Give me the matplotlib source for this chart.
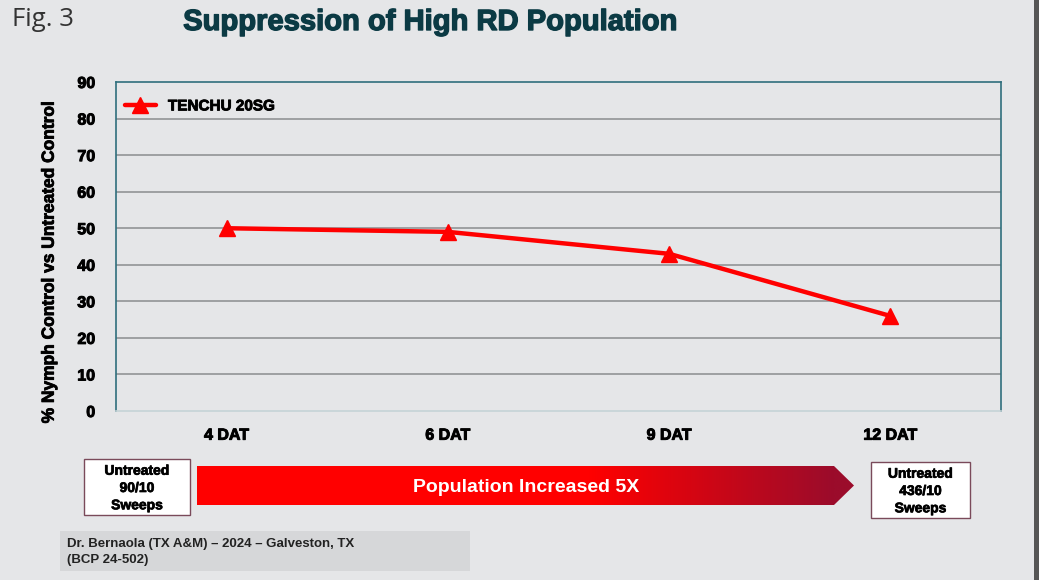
import numpy as np
import matplotlib
matplotlib.use('Agg')
import matplotlib.pyplot as plt
import matplotlib.patheffects as pe
from matplotlib.patches import Polygon, Rectangle

plt.rcParams['font.family'] = ['Liberation Sans', 'DejaVu Sans']

categories = ["4 DAT", "6 DAT", "9 DAT", "12 DAT"]
tenchu = [50, 49, 43, 26]
y_ticks = [0, 10, 20, 30, 40, 50, 60, 70, 80, 90]

W, H = 1039, 580
BG = "#e5e6e8"
TEAL = "#2f6f7d"


def heavy(color, w=0.7):
    # fake a heavier weight than plain bold
    return [pe.withStroke(linewidth=w, foreground=color)]


fig = plt.figure(figsize=(W / 100, H / 100), dpi=100, facecolor=BG)

# main chart area
ax = fig.add_axes([116 / W, 1 - 411 / H, 885 / W, 329 / H])
ax.set_facecolor(BG)
x = np.arange(len(categories))
ax.plot(x, tenchu, color="#ff0000", lw=3.2, marker="^", markersize=11,
        label="TENCHU 20SG", solid_capstyle="round")
ax.set_xlim(-0.5, len(categories) - 0.5)
ax.set_ylim(0, 90)
ax.set_yticks(y_ticks)
ax.set_yticklabels([str(v) for v in y_ticks], fontsize=11.5, fontweight="bold")
ax.set_xticks(x)
ax.set_xticklabels(categories, fontsize=11.5, fontweight="bold")
for lbl in ax.get_xticklabels() + ax.get_yticklabels():
    lbl.set_path_effects(heavy("black"))
ax.tick_params(length=0, pad=15)
ax.tick_params(axis="x", pad=12)
for v in y_ticks[1:-1]:
    ax.axhline(v, color="#8a8c8e", lw=1.1, zorder=0)
for side in ["left", "right", "top"]:
    ax.spines[side].set_color(TEAL)
    ax.spines[side].set_linewidth(1.2)
ax.spines["bottom"].set_color("#c5d3d6")
ax.spines["bottom"].set_linewidth(1.2)
ylab = ax.set_ylabel("% Nymph Control vs Untreated Control", fontsize=12.5,
                     fontweight="bold")
ylab.set_path_effects(heavy("black", 0.6))
ax.yaxis.set_label_coords(-0.067, 0.453)
leg = ax.legend(loc="upper left", frameon=False, prop={"weight": "bold", "size": 11},
                handlelength=2.0, borderaxespad=0.2, bbox_to_anchor=(0.0, 0.975))
for t in leg.get_texts():
    t.set_path_effects(heavy("black", 0.6))

# overlay for annotations in pixel coords
ov = fig.add_axes([0, 0, 1, 1], zorder=-1)
ov.set_xlim(0, W)
ov.set_ylim(H, 0)
ov.axis("off")

fig.text(12 / W, 1 - 19 / H, "Fig. 3", fontsize=18.5, color="#333333",
         va="center", ha="left", family=["Open Sans", "DejaVu Sans"])
title = fig.text(430 / W, 1 - 22 / H, "Suppression of High RD Population", fontsize=21,
                 fontweight="bold", color="#0b3a44", va="center", ha="center")
title.set_path_effects(heavy("#0b3a44", 1.0))

# gradient arrow
arrow_pts = [(197, 466), (834, 466), (854, 485.5), (834, 505), (197, 505)]
arrow = Polygon(arrow_pts, closed=True, facecolor="none", edgecolor="none")
ov.add_patch(arrow)
red = np.array([1.0, 0.0, 0.0])
dark = np.array([0x9b, 0x0c, 0x2b]) / 255
xs = np.linspace(197, 854, 500)
t = np.clip((xs - 590) / (834 - 590), 0, 1)
cols = red[None, :] * (1 - t[:, None]) + dark[None, :] * t[:, None]
img = ov.imshow(cols[None, :, :], extent=(197, 854, 505, 466), aspect="auto",
                interpolation="bilinear")
img.set_clip_path(arrow)
ov.text(526, 487, "Population Increased 5X", color="white", fontsize=14,
        fontweight="bold", ha="center", va="center")

# untreated boxes
for (x0, y0, w, h, txt) in [(84, 459, 106, 56, "Untreated\n90/10\nSweeps"),
                            (871, 462, 99, 56, "Untreated\n436/10\nSweeps")]:
    ov.add_patch(Rectangle((x0, y0), w, h, facecolor="white",
                           edgecolor="#7a4a5a", lw=1.0))
    bt = ov.text(x0 + w / 2, y0 + h / 2 + 1, txt, ha="center", va="center",
                 fontsize=10, fontweight="bold", linespacing=1.3)
    bt.set_path_effects(heavy("black", 0.5))

# credit box
ov.add_patch(Rectangle((60, 531), 410, 40, facecolor="#d6d7d9", edgecolor="none"))
ov.text(67, 552, "Dr. Bernaola (TX A&M) \u2013 2024 \u2013 Galveston, TX\n(BCP 24-502)",
        ha="left", va="center", fontsize=9.5, fontweight="bold", color="#222222",
        linespacing=1.45)

# right edge bar
ov.add_patch(Rectangle((1034, 0), 5, H, facecolor="#555555", edgecolor="none"))

fig.savefig("out.png", dpi=100, facecolor=BG)
